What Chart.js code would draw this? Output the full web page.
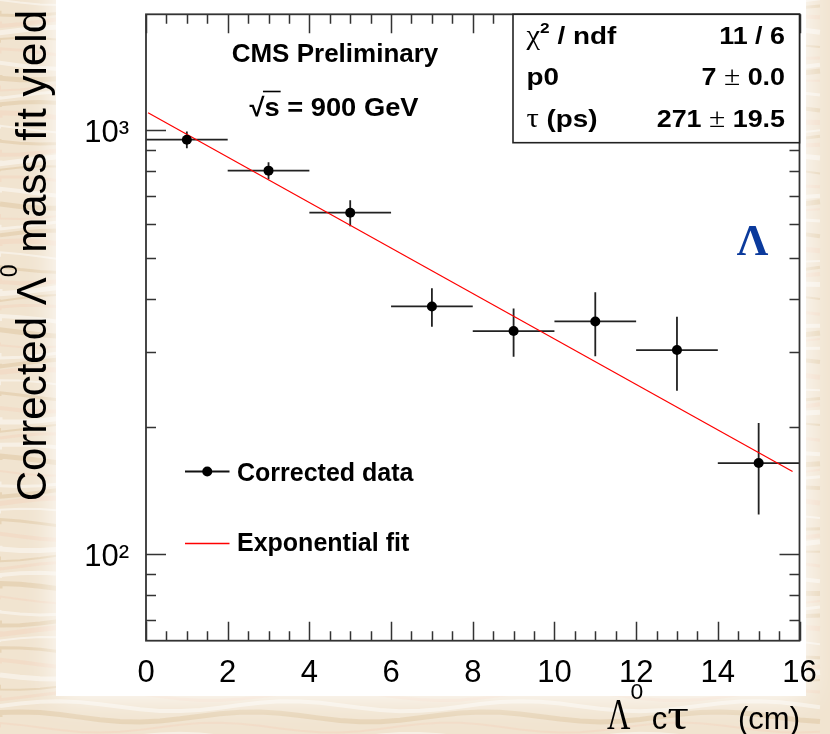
<!DOCTYPE html>
<html><head><meta charset="utf-8">
<script src="https://cdn.jsdelivr.net/npm/chart.js@4/dist/chart.umd.min.js"></script>
<style>
html,body{margin:0;padding:0;width:830px;height:734px;overflow:hidden;background:#fff;}
canvas{display:block;}
</style></head><body>
<canvas id="c" width="830" height="734"></canvas>
<script>
// ---- data ----
const xCenters     = [1, 3, 5, 7, 9, 11, 13, 15];
const xHalfWidths  = [1, 1, 1, 1, 1, 1, 1, 1];
const yields       = [950, 803, 639, 384, 336, 354, 303, 164];
const yieldErrors  = [43, 37, 45, 40, 44, 61, 60, 40];
const fitX = [0.05, 15.83];
const fitY = [1100, 156.6];
const xTickValues = [0, 2, 4, 6, 8, 10, 12, 14, 16];
const xTickLabels = ['0', '2', '4', '6', '8', '10', '12', '14', '16'];
const yTickValues = [100, 1000];
const yTickLabels = ['10²', '10³'];
const yMinorValues = [70, 80, 90, 200, 300, 400, 500, 600, 700, 800, 900];
const statsLabels = ['χ² / ndf', 'p0', 'τ (ps)'];
const statsValues = ['11 / 6', '7 ± 0.0', '271 ± 19.5'];
const legendLabels = ['Corrected data', 'Exponential fit'];
const xTitle = 'Λ⁰ cτ (cm)';
const yTitle = 'Corrected Λ⁰ mass fit yield';

// ---- rich text helpers ----
function richRuns(text, size, bold, opt) {
  opt = Object.assign({supScale: 0.62, supRise: 0.42, greekScale: 1.0, greekSx: {}, sx: 1, serifGreek: 'χτΛ±'}, opt || {});
  const sup = {'⁰': '0', '²': '2', '³': '3'};
  const runs = [];
  for (const ch of text) {
    let r;
    if (sup[ch]) r = {t: sup[ch], font: (bold ? 'bold ' : '') + (size * opt.supScale) + 'px "Liberation Sans"', dy: -size * opt.supRise, sx: opt.sx};
    else if (opt.serifGreek.includes(ch)) r = {t: ch, font: (size * opt.greekScale) + 'px "Liberation Serif"', dy: 0, sx: opt.sx * (opt.greekSx[ch] || 1)};
    else r = {t: ch, font: (bold ? 'bold ' : '') + size + 'px "Liberation Sans"', dy: 0, sx: opt.sx};
    const last = runs[runs.length - 1];
    if (last && last.font === r.font && last.dy === r.dy && last.sx === r.sx) last.t += r.t; else runs.push(r);
  }
  return runs;
}
function drawRuns(ctx, runs, x, y, align) {
  let total = 0;
  for (const r of runs) { ctx.font = r.font; r.w = ctx.measureText(r.t).width * r.sx; total += r.w; }
  let cx = align === 'right' ? x - total : align === 'center' ? x - total / 2 : x;
  const start = cx;
  ctx.textBaseline = 'alphabetic';
  ctx.textAlign = 'left';
  for (const r of runs) {
    ctx.save();
    ctx.font = r.font;
    ctx.translate(cx, y + r.dy);
    ctx.scale(r.sx, 1);
    ctx.fillText(r.t, 0, 0);
    ctx.restore();
    cx += r.w;
  }
  return {start, end: cx};
}

// ---- plugins ----
const backgroundPlugin = {
  id: 'bg',
  beforeDraw(chart) {
    const ctx = chart.ctx, W = chart.width, H = chart.height;
    ctx.save();
    ctx.fillStyle = '#f1e4d0';
    ctx.fillRect(0, 0, W, H);
    ctx.globalAlpha = 0.45;
    for (let i = 0; i < 70; i++) {
      const y = i * 10.7;
      ctx.strokeStyle = (i % 3 === 0) ? '#ffffff' : (i % 3 === 1 ? '#dcc09a' : '#f3d2bd');
      ctx.lineWidth = 2 + (i % 4);
      ctx.beginPath();
      ctx.moveTo(0, y);
      for (let x = 0; x <= W; x += 20) ctx.lineTo(x, y + 5 * Math.sin(x / 37 + i));
      ctx.stroke();
    }
    ctx.globalAlpha = 1;
    ctx.shadowColor = '#ffffff';
    ctx.shadowBlur = 30;
    ctx.fillStyle = '#ffffff';
    ctx.fillRect(56, -40, 750, 736);
    ctx.shadowBlur = 0;
    ctx.fillRect(56, -40, 750, 736);
    ctx.restore();
  }
};

const errorBarPlugin = {
  id: 'errorBars',
  beforeDatasetsDraw(chart) {
    const ctx = chart.ctx, xs = chart.scales.x, ys = chart.scales.y;
    ctx.save();
    ctx.strokeStyle = '#222';
    ctx.lineWidth = 1.8;
    for (let i = 0; i < xCenters.length; i++) {
      const px = xs.getPixelForValue(xCenters[i]);
      const py = ys.getPixelForValue(yields[i]);
      const x1 = xs.getPixelForValue(xCenters[i] - xHalfWidths[i]);
      const x2 = xs.getPixelForValue(xCenters[i] + xHalfWidths[i]);
      const y1 = ys.getPixelForValue(yields[i] + yieldErrors[i]);
      const y2 = ys.getPixelForValue(yields[i] - yieldErrors[i]);
      ctx.beginPath();
      ctx.moveTo(x1, py); ctx.lineTo(x2, py);
      ctx.moveTo(px, y1); ctx.lineTo(px, y2);
      ctx.stroke();
    }
    ctx.restore();
  }
};

const decorPlugin = {
  id: 'decor',
  afterDraw(chart) {
    const ctx = chart.ctx, a = chart.chartArea, xs = chart.scales.x, ys = chart.scales.y;
    ctx.save();
    // ticks (inside, all four sides)
    ctx.strokeStyle = '#333';
    ctx.lineWidth = 1.5;
    ctx.beginPath();
    for (let v = 0; v <= 16.001; v += 0.5) {
      const major = xTickValues.includes(v);
      const len = major ? 19 : 9.5;
      const px = Math.round(xs.getPixelForValue(v)) + 0.5;
      ctx.moveTo(px, a.bottom); ctx.lineTo(px, a.bottom - len);
      ctx.moveTo(px, a.top); ctx.lineTo(px, a.top + len);
    }
    const yAll = yTickValues.map(v => [v, 20]).concat(yMinorValues.map(v => [v, 10]));
    for (const [v, len] of yAll) {
      const py = Math.round(ys.getPixelForValue(v)) + 0.5;
      ctx.moveTo(a.left, py); ctx.lineTo(a.left + len, py);
      ctx.moveTo(a.right, py); ctx.lineTo(a.right - len, py);
    }
    ctx.stroke();
    // frame
    ctx.lineWidth = 1.8;
    ctx.strokeStyle = '#333';
    ctx.strokeRect(a.left, a.top, a.right - a.left, a.bottom - a.top);

    // stats box
    const bx = 513, by = a.top, bw = a.right - 513, bh = 128.4;
    ctx.fillStyle = '#fff';
    ctx.fillRect(bx, by, bw, bh);
    ctx.strokeStyle = '#222';
    ctx.lineWidth = 1.6;
    ctx.strokeRect(bx, by, bw, bh);
    ctx.fillStyle = '#000';
    const rowBase = [43.5, 85, 127];
    for (let i = 0; i < statsLabels.length; i++) {
      drawRuns(ctx, richRuns(statsLabels[i], 24, true, {supScale: 0.62, supRise: 0.42, greekScale: 1.1, sx: 1.16}), 526.5, rowBase[i], 'left');
      drawRuns(ctx, richRuns(statsValues[i], 24, true, {greekScale: 1.1, sx: 1.12}), 785, rowBase[i], 'right');
    }

    // header texts
    ctx.fillStyle = '#000';
    drawRuns(ctx, richRuns('CMS Preliminary', 26, true), 335, 62, 'center');
    const rr = richRuns('√s = 900 GeV', 26, true, {sx: 1.05});
    const ext = drawRuns(ctx, rr, 334, 115.5, 'center');
    ctx.font = 'bold 26px "Liberation Sans"';
    const wRoot = ctx.measureText('√').width * 1.05, wS = ctx.measureText('s').width * 1.05;
    ctx.strokeStyle = '#000';
    ctx.lineWidth = 1.6;
    ctx.beginPath();
    ctx.moveTo(ext.start + wRoot - 1.5, 91.5);
    ctx.lineTo(ext.start + wRoot + wS + 1, 91.5);
    ctx.stroke();

    // legend
    const lx1 = 185, lx2 = 229.5;
    ctx.strokeStyle = '#111';
    ctx.lineWidth = 1.8;
    ctx.beginPath(); ctx.moveTo(lx1, 471.5); ctx.lineTo(lx2, 471.5); ctx.stroke();
    ctx.fillStyle = '#000';
    ctx.beginPath(); ctx.arc((lx1 + lx2) / 2, 471.5, 5, 0, Math.PI * 2); ctx.fill();
    ctx.strokeStyle = '#ff0000';
    ctx.lineWidth = 1.3;
    ctx.beginPath(); ctx.moveTo(lx1, 543.5); ctx.lineTo(lx2, 543.5); ctx.stroke();
    drawRuns(ctx, richRuns(legendLabels[0], 25, true), 237, 481, 'left');
    drawRuns(ctx, richRuns(legendLabels[1], 25, true), 237, 551, 'left');

    // Lambda label
    ctx.fillStyle = '#0b3a9c';
    ctx.font = 'bold 44px "Liberation Serif"';
    ctx.textAlign = 'center';
    ctx.textBaseline = 'alphabetic';
    ctx.fillText('Λ', 752.5, 255);

    // axis titles
    ctx.fillStyle = '#000';
    const cut = xTitle.lastIndexOf(' (');
    const xMain = xTitle.slice(0, cut), xUnit = xTitle.slice(cut + 1);
    drawRuns(ctx, richRuns(xMain, 31, false, {supScale: 0.74, supRise: 0.98, greekScale: 1.45, greekSx: {'Λ': 0.72, 'τ': 1.2}}), 607, 729, 'left');
    drawRuns(ctx, richRuns(xUnit, 31, false), 800, 729, 'right');
    ctx.translate(46, 10);
    ctx.rotate(-Math.PI / 2);
    drawRuns(ctx, richRuns(yTitle, 42, false, {supScale: 0.55, supRise: 0.7, serifGreek: ''}), 0, 0, 'right');
    ctx.restore();
  }
};

new Chart(document.getElementById('c'), {
  type: 'scatter',
  data: {
    datasets: [
      {
        label: legendLabels[1],
        data: fitX.map((x, i) => ({x: x, y: fitY[i]})),
        showLine: true, borderColor: '#ff0000', borderWidth: 1.2,
        pointRadius: 0, fill: false, order: 2
      },
      {
        label: legendLabels[0],
        data: xCenters.map((x, i) => ({x: x, y: yields[i]})),
        showLine: false, pointRadius: 5, pointBackgroundColor: '#000',
        pointBorderColor: '#000', pointBorderWidth: 0, order: 1
      }
    ]
  },
  options: {
    responsive: false, animation: false, devicePixelRatio: 1,
    layout: {padding: {left: 0, right: 30.5, top: 14.3, bottom: 0}},
    plugins: {legend: {display: false}, tooltip: {enabled: false}},
    scales: {
      x: {
        type: 'linear', min: 0, max: 16,
        grid: {display: false, drawTicks: false}, border: {display: false},
        afterBuildTicks: s => { s.ticks = xTickValues.map(v => ({value: v})); },
        afterFit: s => { s.height = 93.3; s.paddingLeft = 0; s.paddingRight = 0; s.paddingTop = 0; s.paddingBottom = 0; },
        ticks: {
          padding: 14, color: '#000', autoSkip: false, maxRotation: 0,
          font: {family: 'Liberation Sans', size: 31},
          callback: (v, i) => xTickLabels[i]
        }
      },
      y: {
        type: 'logarithmic', min: 62.5, max: 1877,
        grid: {display: false, drawTicks: false}, border: {display: false},
        afterBuildTicks: s => { s.ticks = yTickValues.map(v => ({value: v})); },
        afterFit: s => { s.width = 146; s.paddingLeft = 0; s.paddingRight = 0; s.paddingTop = 0; s.paddingBottom = 0; },
        ticks: {
          padding: 17, labelOffset: 3, color: '#000', autoSkip: false,
          font: {family: 'Liberation Sans', size: 31},
          callback: (v, i) => yTickLabels[i]
        }
      }
    }
  },
  plugins: [backgroundPlugin, errorBarPlugin, decorPlugin]
});
</script>
</body></html>
